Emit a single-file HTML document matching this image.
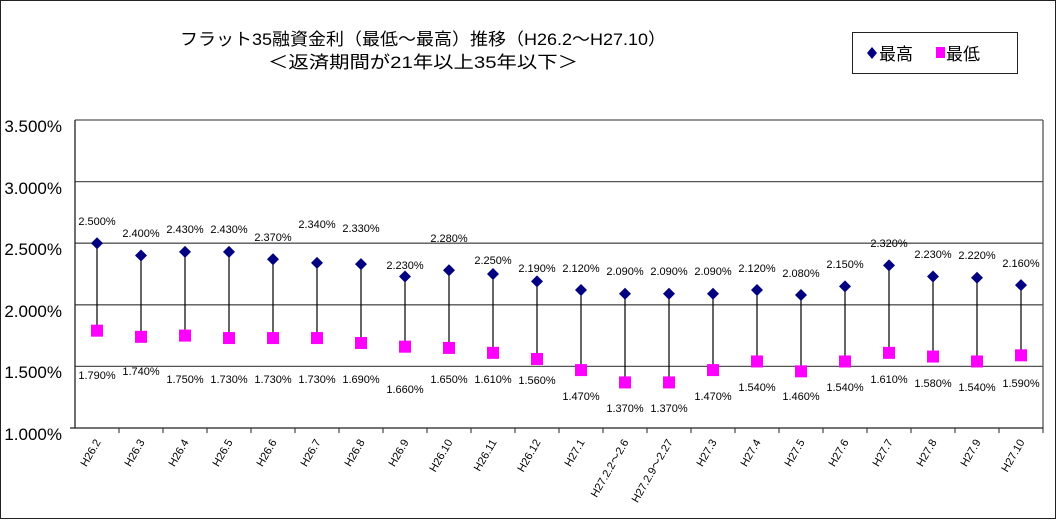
<!DOCTYPE html>
<html><head><meta charset="utf-8"><style>
body{margin:0;background:#fff;}
svg{display:block;font-family:"Liberation Sans","Noto Sans CJK JP",sans-serif;}
</style></head><body>
<svg width="1057" height="520" viewBox="0 0 1057 520" xmlns="http://www.w3.org/2000/svg">
<rect x="0.5" y="0.5" width="1055" height="518" fill="#fff" stroke="#222" stroke-width="1"/>
<text x="180" y="45" font-size="17" textLength="486" lengthAdjust="spacingAndGlyphs">フラット35融資金利（最低～最高）推移（H26.2～H27.10）</text>
<text x="268" y="68" font-size="17" textLength="310" lengthAdjust="spacingAndGlyphs">＜返済期間が21年以上35年以下＞</text>
<rect x="852.5" y="32.5" width="165" height="41" fill="#fff" stroke="#222"/>
<path d="M872 47 L877 53 L872 59 L867 53 Z" fill="#000080"/>
<text x="879" y="60" font-size="17">最高</text>
<rect x="936" y="47" width="9" height="11" fill="#ff00ff"/>
<text x="946" y="60" font-size="17">最低</text>
<g stroke="#555" stroke-width="1.3">
<line x1="75" y1="120" x2="1043" y2="120"/>
<line x1="75" y1="181.6" x2="1043" y2="181.6"/>
<line x1="75" y1="243.2" x2="1043" y2="243.2"/>
<line x1="75" y1="304.8" x2="1043" y2="304.8"/>
<line x1="75" y1="366.4" x2="1043" y2="366.4"/>
<line x1="1043" y1="120" x2="1043" y2="428"/>
</g>
<line x1="75" y1="120" x2="75" y2="428" stroke="#222" stroke-width="1.3"/>
<line x1="70" y1="428" x2="1043" y2="428" stroke="#222" stroke-width="1.3"/>
<g font-size="17" text-anchor="end" fill="#000">
<text x="62" y="132">3.500%</text><text x="62" y="194">3.000%</text><text x="62" y="255">2.500%</text>
<text x="62" y="317">2.000%</text><text x="62" y="378">1.500%</text><text x="62" y="440">1.000%</text>
</g>
<g id="d"></g>
</svg>
<script>
var cats=["H26.2","H26.3","H26.4","H26.5","H26.6","H26.7","H26.8","H26.9","H26.10","H26.11","H26.12","H27.1","H27.2.2～2.6","H27.2.9～2.27","H27.3","H27.4","H27.5","H27.6","H27.7","H27.8","H27.9","H27.10"];
var hi=[2.5,2.4,2.43,2.43,2.37,2.34,2.33,2.23,2.28,2.25,2.19,2.12,2.09,2.09,2.09,2.12,2.08,2.15,2.32,2.23,2.22,2.16];
var lo=[1.79,1.74,1.75,1.73,1.73,1.73,1.69,1.66,1.65,1.61,1.56,1.47,1.37,1.37,1.47,1.54,1.46,1.54,1.61,1.58,1.54,1.59];
var hy=[225,237,233,233,241,228,232,269,242,264,272,272,275,275,275,272,277,268,247,258,259,267];
var ly=[379,375,383,383,383,383,383,393,383,383,384,400,412,412,400,391,400,391,383,387,391,387];
var s="",ns="http://www.w3.org/2000/svg";
function Y(v){return 428-(v-1)*123.2;}
for(var i=0;i<22;i++){
 var x=97+44*i,a=Y(hi[i]),b=Y(lo[i]);
 s+='<line x1="'+(x+22)+'" y1="428" x2="'+(x+22)+'" y2="433" stroke="#222"/>';
 s+='<line x1="'+x+'" y1="'+a+'" x2="'+x+'" y2="'+b+'" stroke="#000" stroke-width="1.2"/>';
 s+='<path d="M'+x+' '+(a-6)+' L'+(x+6)+' '+a+' L'+x+' '+(a+6)+' L'+(x-6)+' '+a+'Z" fill="#000080"/>';
 s+='<rect x="'+(x-6)+'" y="'+(b-6)+'" width="12" height="12" fill="#ff00ff"/>';
 s+='<text x="'+x+'" y="'+hy[i]+'" font-size="11" text-anchor="middle">'+hi[i].toFixed(3)+'%</text>';
 s+='<text x="'+x+'" y="'+ly[i]+'" font-size="11" text-anchor="middle">'+lo[i].toFixed(3)+'%</text>';
 s+='<text transform="translate('+(x+4)+',442) rotate(-60)" font-size="11" text-anchor="end">'+cats[i]+'</text>';
}
document.getElementById("d").innerHTML=s;
</script>
</body></html>
